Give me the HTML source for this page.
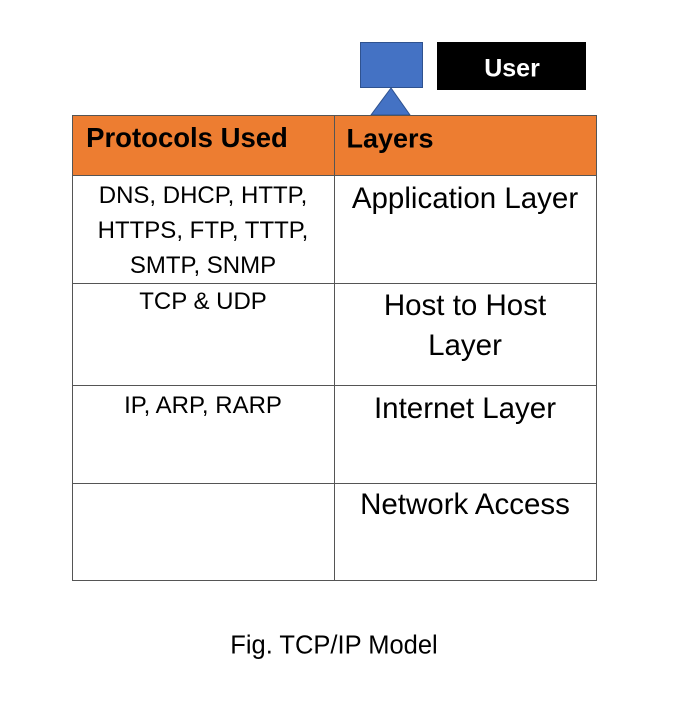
<!DOCTYPE html>
<html><head><meta charset="utf-8"><style>
body{margin:0;width:684px;height:717px;background:#fff;position:relative;overflow:hidden;font-family:"Liberation Sans",sans-serif;}
.a{position:absolute;white-space:nowrap;transform:translate(-50%,-50%);color:#000;}
.l{left:203px;font-size:24px;}
.r{left:465px;font-size:29.5px;}
.line{position:absolute;background:#555;}
</style></head><body>
<div style="position:absolute;left:360px;top:42px;width:63px;height:46px;background:#4472c4;border:1px solid #2f528f;box-sizing:border-box"></div>
<svg style="position:absolute;left:0;top:0" width="684" height="717"><polygon points="391,88 371,115 410,115" fill="#4472c4" stroke="#2f528f"/></svg>
<div style="position:absolute;left:437px;top:42px;width:149px;height:48px;background:#000"></div>
<div class="a" style="left:512px;top:69px;color:#fff;font-weight:bold;font-size:25px">User</div>
<div style="position:absolute;left:72px;top:115px;width:524px;height:60px;background:#ed7d31"></div>
<div class="line" style="left:72px;top:115px;width:525px;height:1px"></div>
<div class="line" style="left:72px;top:175px;width:525px;height:1px"></div>
<div class="line" style="left:72px;top:283px;width:525px;height:1px"></div>
<div class="line" style="left:72px;top:385px;width:525px;height:1px"></div>
<div class="line" style="left:72px;top:483px;width:525px;height:1px"></div>
<div class="line" style="left:72px;top:580px;width:525px;height:1px"></div>
<div class="line" style="left:72px;top:115px;width:1px;height:466px"></div>
<div class="line" style="left:334px;top:115px;width:1px;height:466px"></div>
<div class="line" style="left:596px;top:115px;width:1px;height:466px"></div>
<div class="a" style="left:187px;top:138px;font-weight:bold;font-size:27.5px">Protocols Used</div>
<div class="a" style="left:390px;top:139px;font-weight:bold;font-size:27px">Layers</div>
<div class="a l" style="top:196px">DNS, DHCP, HTTP,</div>
<div class="a l" style="top:231px">HTTPS, FTP, TTTP,</div>
<div class="a l" style="top:266px">SMTP, SNMP</div>
<div class="a l" style="top:302px">TCP &amp; UDP</div>
<div class="a l" style="top:406px">IP, ARP, RARP</div>
<div class="a r" style="top:199px">Application Layer</div>
<div class="a r" style="top:306px">Host to Host</div>
<div class="a r" style="top:346px">Layer</div>
<div class="a r" style="top:409px">Internet Layer</div>
<div class="a r" style="top:505px">Network Access</div>
<div class="a" style="left:334px;top:646px;font-size:25.5px">Fig. TCP/IP Model</div>
</body></html>
